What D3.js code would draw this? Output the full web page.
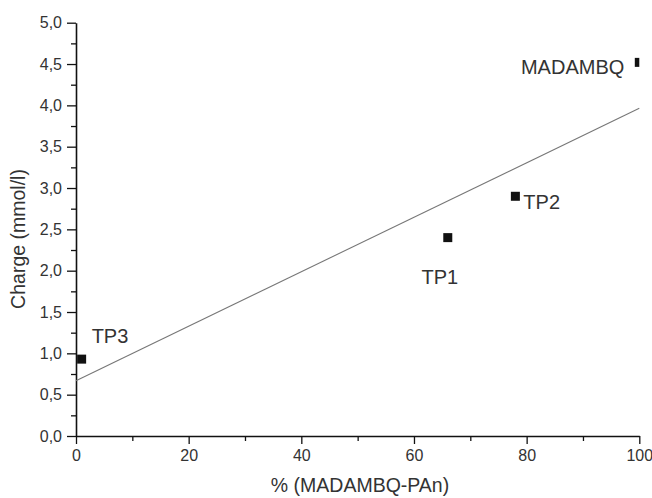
<!DOCTYPE html>
<html>
<head>
<meta charset="utf-8">
<script src="https://d3js.org/d3.v7.min.js"></script>
<style>
  body { margin: 0; background: #fff; }
  svg { display: block; }
  text { font-family: "Liberation Sans", Arial, sans-serif; fill: #333; }
</style>
</head>
<body>
<div id="chart"></div>
<script>
// data
const sampleNames = ['TP3', 'TP1', 'TP2', 'MADAMBQ'];
const percentValues = [1, 66, 78, 100];
const chargeValues = [0.93, 2.40, 2.90, 4.52];
const xTickValues = [0, 20, 40, 60, 80, 100];
const yTickValues = [0, 0.5, 1, 1.5, 2, 2.5, 3, 3.5, 4, 4.5, 5];

const width = 652, height = 498;
const margin = { top: 22.7, right: 12.7, bottom: 62, left: 76 };

const svg = d3.select('#chart').append('svg')
    .attr('width', width)
    .attr('height', height);

const x = d3.scaleLinear().domain([0, 100]).range([margin.left, width - margin.right]);
const y = d3.scaleLinear().domain([0, 5]).range([height - margin.bottom, margin.top]);

const fmt = d => d3.format('.1f')(d).replace('.', ',');

// plot area clip (points at the edge get cut like the original)
svg.append('clipPath').attr('id', 'plot-clip')
    .append('rect')
    .attr('x', x(0)).attr('y', y(5))
    .attr('width', x(100) - x(0)).attr('height', y(0) - y(5));

// minor ticks first
svg.append('g')
    .attr('transform', `translate(0,${y(0)})`)
    .call(d3.axisBottom(x).tickValues(d3.range(10, 100, 20)).tickSize(5).tickFormat(''))
    .call(g => g.select('.domain').remove())
    .call(g => g.selectAll('line').attr('stroke', '#111').attr('stroke-width', 1.3));

svg.append('g')
    .attr('transform', `translate(${x(0)},0)`)
    .call(d3.axisLeft(y).tickValues(d3.range(0.25, 5, 0.5)).tickSize(5).tickFormat(''))
    .call(g => g.select('.domain').remove())
    .call(g => g.selectAll('line').attr('stroke', '#111').attr('stroke-width', 1.3));

// major axes
const xAxis = svg.append('g')
    .attr('transform', `translate(0,${y(0)})`)
    .call(d3.axisBottom(x).tickValues(xTickValues).tickSize(8).tickSizeOuter(0).tickPadding(6));

const yAxis = svg.append('g')
    .attr('transform', `translate(${x(0)},0)`)
    .call(d3.axisLeft(y).tickValues(yTickValues).tickFormat(fmt).tickSize(9).tickSizeOuter(0).tickPadding(5));

[xAxis, yAxis].forEach(a => {
    a.select('.domain').attr('stroke', '#111').attr('stroke-width', 1.6);
    a.selectAll('.tick line').attr('stroke', '#111').attr('stroke-width', 1.3);
    a.selectAll('.tick text')
        .style('font-family', '"Liberation Sans", Arial, sans-serif')
        .style('font-size', '16px')
        .attr('fill', '#333');
});

// axis titles
svg.append('text')
    .attr('x', 360)
    .attr('y', 492)
    .attr('text-anchor', 'middle')
    .style('font-size', '19.5px')
    .text('% (MADAMBQ-PAn)');

svg.append('text')
    .attr('transform', `translate(25,239) rotate(-90)`)
    .attr('text-anchor', 'middle')
    .style('font-size', '19.5px')
    .text('Charge (mmol/l)');

// linear fit through the points
const meanX = d3.mean(percentValues), meanY = d3.mean(chargeValues);
const slope = d3.sum(percentValues, (v, i) => (v - meanX) * (chargeValues[i] - meanY)) /
    d3.sum(percentValues, v => (v - meanX) ** 2);
const intercept = meanY - slope * meanX;
const fitX = x.domain();

svg.append('path')
    .datum(fitX)
    .attr('fill', 'none')
    .attr('stroke', '#777')
    .attr('stroke-width', 1.1)
    .attr('d', d3.line().x(d => x(d)).y(d => y(intercept + slope * d)));

// points
const points = sampleNames.map((name, i) => ({ name, px: percentValues[i], py: chargeValues[i] }));

svg.append('g')
    .attr('clip-path', 'url(#plot-clip)')
    .selectAll('rect')
    .data(points)
    .enter().append('rect')
    .attr('x', d => x(d.px) - 4.5)
    .attr('y', d => y(d.py) - 4.5)
    .attr('width', 9)
    .attr('height', 9)
    .attr('fill', '#111');

// point labels
const labelPlace = {
    TP3: { dx: 10, dy: -16, anchor: 'start' },
    TP1: { dx: -8, dy: 46, anchor: 'middle' },
    TP2: { dx: 8, dy: 13, anchor: 'start' },
    MADAMBQ: { dx: -15, dy: 12, anchor: 'end' }
};

svg.selectAll('text.lbl')
    .data(points)
    .enter().append('text')
    .attr('class', 'lbl')
    .attr('x', d => x(d.px) + labelPlace[d.name].dx)
    .attr('y', d => y(d.py) + labelPlace[d.name].dy)
    .attr('text-anchor', d => labelPlace[d.name].anchor)
    .style('font-size', '20px')
    .text(d => d.name);
</script>
</body>
</html>
